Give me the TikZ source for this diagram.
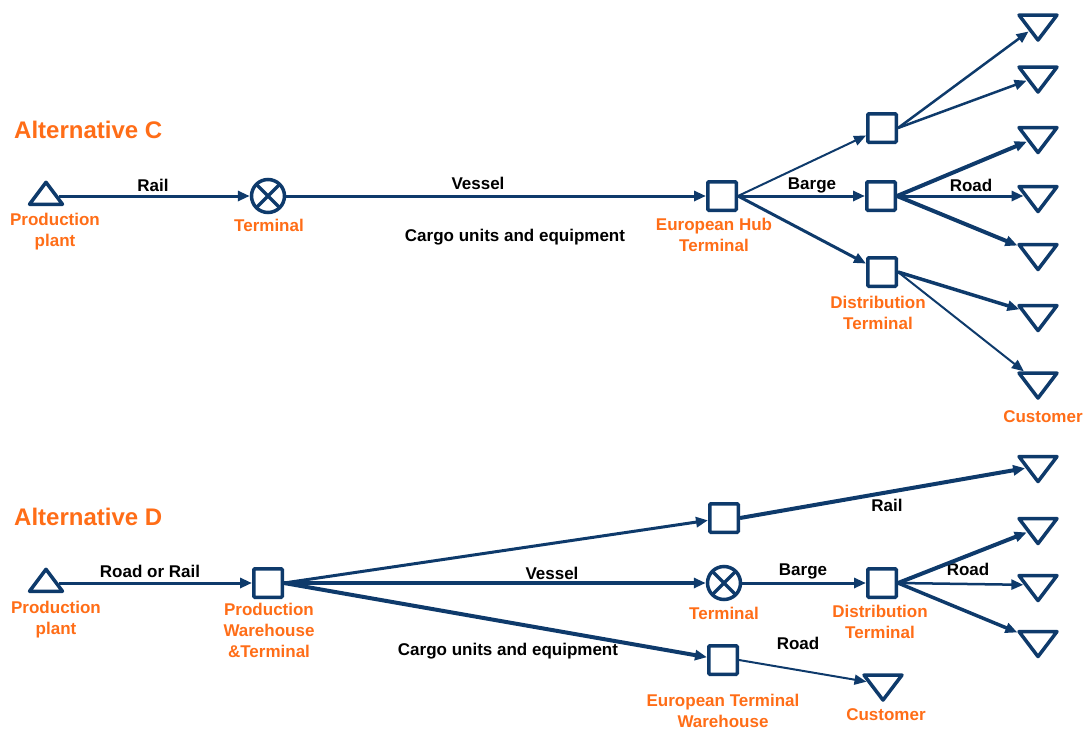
\documentclass[tikz,border=0pt]{standalone}
\usepackage{fontspec}
\setmainfont{Liberation Sans}
\usetikzlibrary{shapes.geometric,arrows.meta}
\definecolor{navy}{HTML}{0E3A6B}
\definecolor{tagorange}{HTML}{FF6D17}

\begin{document}
\begin{tikzpicture}[x=1pt,y=-1pt]
    \tikzstyle{every node}+=[inner sep=0pt, font=\fontsize{17}{21}\selectfont\bfseries]
    \tikzstyle{hub}=[draw=navy, line width=3.5pt, minimum size=28.5pt, rounded corners=1pt]
    \tikzstyle{xterm}=[circle, draw=navy, line width=3.5pt, minimum size=33pt,
        path picture={\draw [navy, line width=3.5pt] (path picture bounding box.north west) -- (path picture bounding box.south east)
            (path picture bounding box.north east) -- (path picture bounding box.south west);}]
    \tikzstyle{sink}=[isosceles triangle, isosceles triangle stretches, shape border rotate=270, draw=navy, line width=3.5pt, line join=round, minimum width=38pt, minimum height=25pt]
    \tikzstyle{source}=[sink, shape border rotate=90, minimum width=33pt, minimum height=22pt]
    \tikzstyle{tag}=[text=tagorange, align=center]
    \tikzstyle{flow}=[draw=navy, line width=3pt, -{Triangle[length=12pt,width=10pt]}]
    \tikzstyle{slim}=[line width=2pt]
    \tikzstyle{heavy}=[line width=4pt]
    \useasboundingbox (0,0) rectangle (1090,731);

    % Alternative C
    \node [tag, font=\fontsize{24}{27}\selectfont\bfseries, anchor=west] (altC) at (14,130) {Alternative C};
    \node [source] (plantC) at (46,196) {};
    \node [xterm] (termC) at (268,196) {};
    \node [hub] (hubC) at (722,196) {};
    \node [hub] (upC) at (882,128) {};
    \node [hub] (midC) at (881,196) {};
    \node [hub] (distC) at (882,272) {};
    \node [sink] (custC1) at (1038,24.5) {};
    \node [sink] (custC2) at (1038,76.5) {};
    \node [sink] (custC3) at (1038,137) {};
    \node [sink] (custC4) at (1038,196) {};
    \node [sink] (custC5) at (1038,254) {};
    \node [sink] (custC6) at (1038,315) {};
    \node [sink] (custC7) at (1038,382.5) {};

    \node [tag] (plantCtag) at (55,232) {Production\\plant};
    \node [tag] (termCtag) at (269,225) {Terminal};
    \node [tag] (hubCtag) at (714,235) {European Hub\\Terminal};
    \node [tag] (distCtag) at (878,313) {Distribution\\Terminal};
    \node [tag] (custCtag) at (1043,417) {Customer};

    \node (railC) at (153,185) {Rail};
    \node (vesselC) at (478,183) {Vessel};
    \node (bargeC) at (812,185) {Barge};
    \node (roadC) at (971,185) {Road};
    \node (cargoC) at (515,237) {Cargo units and equipment};

    \draw [flow] (plantC) -- (termC);
    \draw [flow] (termC) -- (hubC);
    \draw [flow, slim] (hubC.east) -- (upC);
    \draw [flow] (hubC.east) -- (midC);
    \draw [flow] (hubC.east) -- (distC);
    \draw [flow, line width=2.5pt] (upC.east) -- (custC1);
    \draw [flow, line width=2.5pt] (upC.east) -- (custC2);
    \draw [flow, heavy] (midC.east) -- (custC3);
    \draw [flow] (midC.east) -- (custC4);
    \draw [flow, heavy] (midC.east) -- (custC5);
    \draw [flow, line width=3.5pt] (distC.east) -- (custC6);
    \draw [flow, slim] (distC.east) -- (custC7);

    % Alternative D
    \node [tag, font=\fontsize{24}{27}\selectfont\bfseries, anchor=west] (altD) at (14,517) {Alternative D};
    \node [source] (plantD) at (46,583) {};
    \node [hub] (whD) at (268,583) {};
    \node [hub] (upD) at (724,518) {};
    \node [xterm] (termD) at (724,583) {};
    \node [hub] (ewhD) at (723,660) {};
    \node [hub] (distD) at (882,583) {};
    \node [sink] (custD0) at (883,684.5) {};
    \node [sink] (custD1) at (1038,466) {};
    \node [sink] (custD2) at (1038,528) {};
    \node [sink] (custD3) at (1038,585) {};
    \node [sink] (custD4) at (1038,641) {};

    \node [tag] (plantDtag) at (56,620) {Production\\plant};
    \node [tag] (whDtag) at (269,630) {Production\\Warehouse\\\&Terminal};
    \node [tag] (termDtag) at (724,613) {Terminal};
    \node [tag] (ewhDtag) at (723,711) {European Terminal\\Warehouse};
    \node [tag] (distDtag) at (880,622) {Distribution\\Terminal};
    \node [tag] (custDtag) at (886,715) {Customer};

    \node (roadrailD) at (150,571) {Road or Rail};
    \node (vesselD) at (552,573) {Vessel};
    \node (bargeD) at (803,571) {Barge};
    \node (roadD1) at (968,569) {Road};
    \node (railD) at (887,505) {Rail};
    \node (roadD2) at (798,643) {Road};
    \node (cargoD) at (508,651) {Cargo units and equipment};

    \draw [flow] (plantD) -- (whD);
    \draw [flow] (whD.east) -- (upD);
    \draw [flow, line width=3.5pt] (whD.east) -- (termD);
    \draw [flow, heavy] (whD.east) -- (ewhD);
    \draw [flow, heavy] (upD.east) -- (custD1);
    \draw [flow] (termD) -- (distD);
    \draw [flow, heavy] (distD.east) -- (custD2);
    \draw [flow, line width=2.5pt] (distD.east) -- (custD3);
    \draw [flow, line width=3.5pt] (distD.east) -- (custD4);
    \draw [flow, slim] (ewhD.east) -- (custD0);
\end{tikzpicture}
\end{document}
